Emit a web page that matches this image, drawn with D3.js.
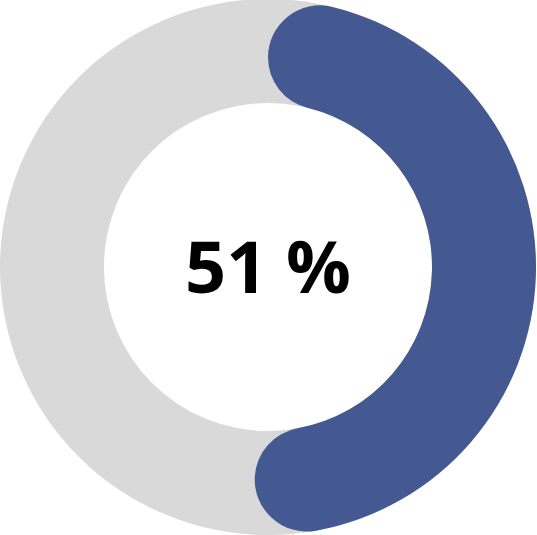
<!DOCTYPE html>
<html><head><meta charset="utf-8">
<script src="https://cdn.jsdelivr.net/npm/d3@7"></script>
<style>html,body{margin:0;padding:0;background:#fff;}svg{display:block;}</style>
</head><body>
<script>
const categories = ["Done", "Remaining"];
const values = [51, 49];
const labelText = "51 %";

const W = 537, H = 535;
const cx = 268, cy = 267, outerR = 268, innerR = 164;

const svg = d3.select("body").append("svg").attr("width", W).attr("height", H);
const g = svg.append("g").attr("transform", `translate(${cx},${cy})`);

const total = d3.sum(values);
const angle = d3.scaleLinear().domain([0, total]).range([0, 2 * Math.PI]);

const bgArc = d3.arc().innerRadius(innerR).outerRadius(outerR).startAngle(0).endAngle(2 * Math.PI);
g.append("path").attr("d", bgArc()).attr("fill", "#d9d9d9");

const fgArc = d3.arc().innerRadius(innerR).outerRadius(outerR)
  .cornerRadius((outerR - innerR) / 2);
g.append("path")
  .datum({ startAngle: angle(0), endAngle: angle(values[0]) })
  .attr("d", fgArc)
  .attr("fill", "#445891");

g.append("text")
  .attr("x", 0).attr("y", 26)
  .attr("text-anchor", "middle")
  .attr("font-family", "'Open Sans', sans-serif")
  .attr("font-weight", "bold")
  .attr("font-size", 72)
  .attr("fill", "#000")
  .text(labelText);
</script>
</body></html>
